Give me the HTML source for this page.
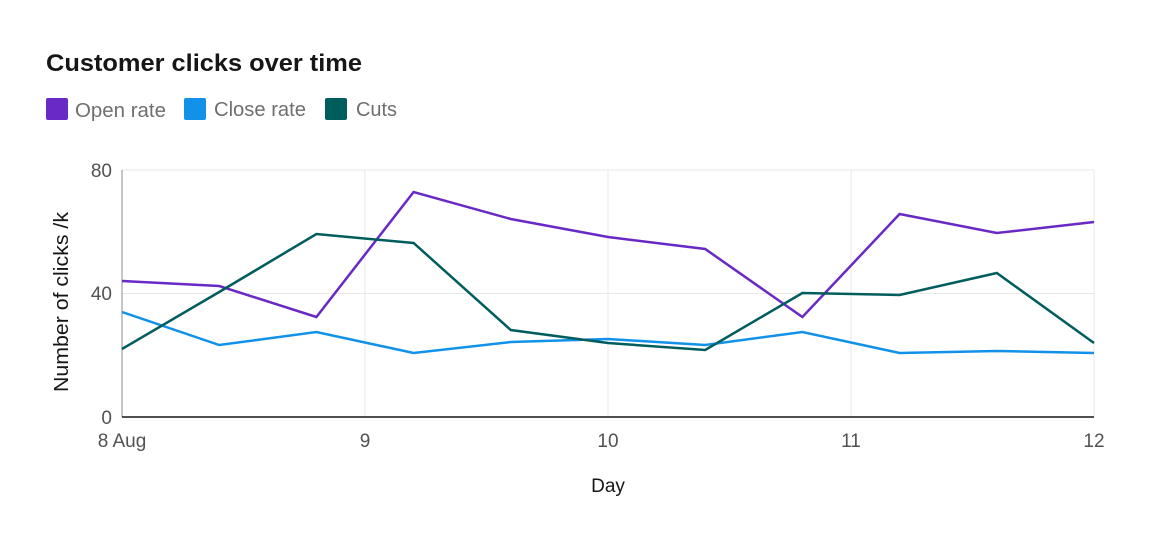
<!DOCTYPE html>
<html><head><meta charset="utf-8"><style>
body{margin:0;background:#fff;width:1152px;height:546px;overflow:hidden;font-family:"Liberation Sans",sans-serif;}
</style></head><body>
<svg width="1152" height="546" xmlns="http://www.w3.org/2000/svg" font-family="Liberation Sans, sans-serif">
<text x="46" y="71" font-size="24" font-weight="bold" fill="#161616" textLength="316" lengthAdjust="spacingAndGlyphs">Customer clicks over time</text>
<rect x="46" y="98" width="22" height="22" rx="2" fill="#6929c4"/>
<text x="75" y="117" font-size="20" fill="#6f6f6f" textLength="91" lengthAdjust="spacingAndGlyphs">Open rate</text>
<rect x="184" y="98" width="22" height="22" rx="2" fill="#1192e8"/>
<text x="214" y="116" font-size="20" fill="#6f6f6f" textLength="92" lengthAdjust="spacingAndGlyphs">Close rate</text>
<rect x="325" y="98" width="22" height="22" rx="2" fill="#005d5d"/>
<text x="356" y="116" font-size="20" fill="#6f6f6f" textLength="41" lengthAdjust="spacingAndGlyphs">Cuts</text>
<g stroke="#e8e8e8" stroke-width="1">
<line x1="122" y1="170" x2="1094" y2="170"/><line x1="122" y1="293.5" x2="1094" y2="293.5"/>
<line x1="365" y1="170" x2="365" y2="417"/><line x1="608" y1="170" x2="608" y2="417"/>
<line x1="851" y1="170" x2="851" y2="417"/><line x1="1094" y1="170" x2="1094" y2="417"/>
</g>
<line x1="122" y1="170" x2="122" y2="417" stroke="#8d8d8d"/>
<line x1="122" y1="417" x2="1094" y2="417" stroke="#161616" stroke-width="1.5"/>
<g font-size="19" fill="#525252" text-anchor="end">
<text x="112" y="177">80</text><text x="112" y="300">40</text><text x="112" y="424">0</text>
</g>
<g font-size="19" fill="#525252" text-anchor="middle">
<text x="122" y="447">8 Aug</text><text x="365" y="447">9</text><text x="608" y="447">10</text><text x="851" y="447">11</text><text x="1094" y="447">12</text>
</g>
<text x="608" y="492" font-size="19" fill="#161616" text-anchor="middle">Day</text>
<text transform="translate(68,302) rotate(-90)" font-size="20" fill="#161616" text-anchor="middle" textLength="180" lengthAdjust="spacingAndGlyphs">Number of clicks /k</text>
<g fill="none" stroke-width="2.5">
<polyline stroke="#6929c4" points="122,281 219.2,286 316.4,317 413.6,192 510.8,219 608,237 705.2,249 802.4,317 899.6,214 996.8,233 1094,222"/>
<polyline stroke="#1192e8" points="122,312 219.2,345 316.4,332 413.6,353 510.8,342 608,339 705.2,345 802.4,332 899.6,353 996.8,351 1094,353"/>
<polyline stroke="#005d5d" points="122,349 219.2,292 316.4,234 413.6,243 510.8,330 608,343 705.2,350 802.4,293 899.6,295 996.8,273 1094,343"/>
</g>
</svg>
</body></html>
